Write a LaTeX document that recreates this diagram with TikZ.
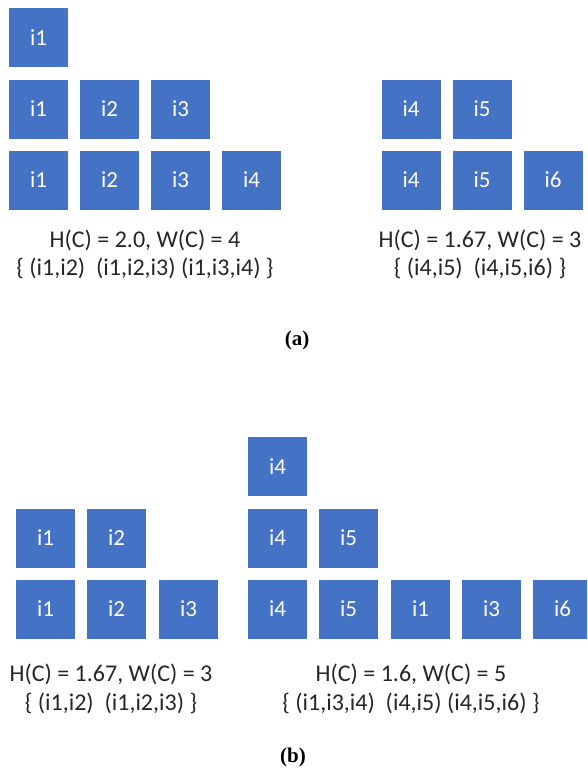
\documentclass[tikz,border=0pt]{standalone}
\usepackage{fontspec}
\setmainfont{Carlito}
\newfontfamily\capfont{Liberation Serif}
\usepackage{tikz}
\definecolor{itemblue}{HTML}{4472C4}
\tikzset{
ITEM/.style ={draw=none, fill=itemblue, text=white, minimum width=59pt, minimum height=59pt, inner sep=0pt, font=\fontsize{23}{27}\selectfont},
SCORE/.style ={text=black!85, inner sep=0pt, font=\fontsize{24}{28}\selectfont},
CAPTION/.style ={inner sep=0pt, font=\capfont\bfseries\fontsize{21}{25}\selectfont},
}

\begin{document}
\begin{tikzpicture}
[x=1pt, y=-1pt]
	\clip (0,0) rectangle (587,784);
	\fill[white] (0,0) rectangle (587,784);
	% (a), first cover
	\node[ITEM] (aL11) at (38.5,38) {i1};
	\node[ITEM] (aL21) at (38.5,109) {i1};
	\node[ITEM] (aL22) at (109.5,109) {i2};
	\node[ITEM] (aL23) at (180.5,109) {i3};
	\node[ITEM] (aL31) at (38.5,180) {i1};
	\node[ITEM] (aL32) at (109.5,180) {i2};
	\node[ITEM] (aL33) at (180.5,180) {i3};
	\node[ITEM] (aL34) at (251.5,180) {i4};
	\node[SCORE] (aLh) at (145,240) {H(C) = 2.0, W(C) = 4};
	\node[SCORE] (aLs) at (145,268) {\{ (i1,i2)\ \ (i1,i2,i3) (i1,i3,i4) \}};
	% (a), second cover
	\node[ITEM] (aR11) at (411,109) {i4};
	\node[ITEM] (aR12) at (482,109) {i5};
	\node[ITEM] (aR21) at (411,180) {i4};
	\node[ITEM] (aR22) at (482,180) {i5};
	\node[ITEM] (aR23) at (553,180) {i6};
	\node[SCORE] (aRh) at (480,240) {H(C) = 1.67, W(C) = 3};
	\node[SCORE] (aRs) at (480,268) {\{ (i4,i5)\ \ (i4,i5,i6) \}};
	\node[CAPTION] (capa) at (297,340) {(a)};
	% (b), first cover
	\node[ITEM] (bL11) at (45.5,538) {i1};
	\node[ITEM] (bL12) at (116.5,538) {i2};
	\node[ITEM] (bL21) at (45.5,609) {i1};
	\node[ITEM] (bL22) at (116.5,609) {i2};
	\node[ITEM] (bL23) at (188.5,609) {i3};
	\node[SCORE] (bLh) at (111,674) {H(C) = 1.67, W(C) = 3};
	\node[SCORE] (bLs) at (111,703) {\{ (i1,i2)\ \ (i1,i2,i3) \}};
	% (b), second cover
	\node[ITEM] (bR11) at (277.5,466.5) {i4};
	\node[ITEM] (bR21) at (277.5,538) {i4};
	\node[ITEM] (bR22) at (348.5,538) {i5};
	\node[ITEM] (bR31) at (277.5,609) {i4};
	\node[ITEM] (bR32) at (348.5,609) {i5};
	\node[ITEM] (bR33) at (420.5,609) {i1};
	\node[ITEM] (bR34) at (491.5,609) {i3};
	\node[ITEM] (bR35) at (562.5,609) {i6};
	\node[SCORE] (bRh) at (411,674) {H(C) = 1.6, W(C) = 5};
	\node[SCORE] (bRs) at (411,703) {\{ (i1,i3,i4)\ \ (i4,i5) (i4,i5,i6) \}};
	\node[CAPTION] (capb) at (293,757) {(b)};
\end{tikzpicture}
\end{document}
